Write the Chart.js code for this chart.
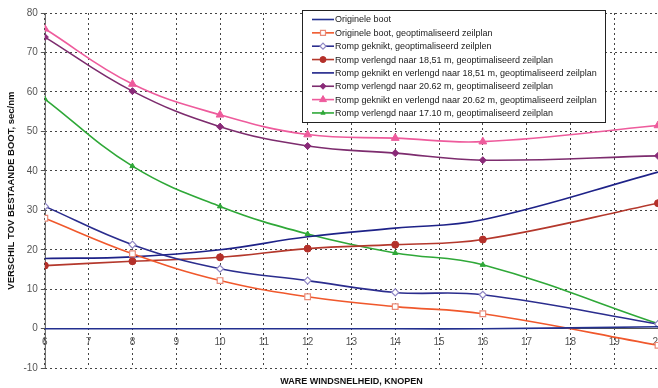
<!DOCTYPE html>
<html lang="nl">
<head>
<meta charset="UTF-8">
<title>Verschil tov bestaande boot</title>
<script src="https://cdn.jsdelivr.net/npm/chart.js@4.4.0/dist/chart.umd.min.js"></script>
<style>
  html, body { margin: 0; padding: 0; background: #fff; }
  #wrap { width: 658px; height: 388px; position: relative; }
</style>
</head>
<body>
<div id="wrap"><canvas id="chart"></canvas></div>
<script>
// wind speeds (knots) where each hull was measured
const windSpeeds = [6, 8, 10, 12, 14, 16, 20];

// difference vs. existing boat, sec/nm
const origineleBoot         = [0, 0, 0, 0, 0, 0, 0.5];
const origineleGeopt        = [28, 19, 12.2, 8.1, 5.6, 3.8, -4.2];
const rompGeknikt           = [31, 21.3, 15.2, 12.2, 9.2, 8.6, 1.2];
const rompVerlengd1851      = [16, 17.1, 18.1, 20.3, 21.3, 22.6, 31.8];
const geknikt1851           = [17.8, 18.2, 20, 23.3, 25.5, 27.6, 39.7];
const rompVerlengd2062      = [73.9, 60.2, 51.2, 46.3, 44.5, 42.7, 43.8];
const geknikt2062           = [76, 62, 54.2, 49.2, 48.3, 47.4, 51.5];
const rompVerlengd1710      = [58.2, 41.2, 31, 24, 19.2, 16.2, 1.3];

const seriesLabels = [
    'Originele boot',
    'Originele boot, geoptimaliseerd zeilplan',
    'Romp geknikt, geoptimaliseerd zeilplen',
    'Romp verlengd naar 18,51 m, geoptimaliseerd zeilplan',
    'Romp geknikt en verlengd naar 18,51 m, geoptimaliseerd zeilplan',
    'Romp verlengd naar 20.62 m, geoptimaliseerd zeilplan',
    'Romp geknikt en verlengd naar 20.62 m, geoptimaliseerd zeilplan',
    'Romp verlengd naar 17.10 m, geoptimaliseerd zeilplan'
];

const yTicks = { min: -10, max: 80, step: 10 };
const xTicks = { min: 6, max: 20, step: 1 };

const FONT = '"Liberation Sans", Arial, sans-serif';

function pts(values) {
    return windSpeeds.map((w, i) => ({ x: w, y: values[i] }));
}

function series(label, values, line, marker) {
    return Object.assign({
        label: label,
        data: pts(values),
        borderColor: line,
        borderWidth: 1.6,
        tension: 0.4,
        pointRadius: 0,
        pointHoverRadius: 0
    }, marker || {});
}

const datasets = [
    series(seriesLabels[0], origineleBoot, '#23308f'),
    series(seriesLabels[1], origineleGeopt, '#f0582c',
        { pointStyle: 'rect', pointRadius: 4, pointBorderColor: '#e98a78', pointBackgroundColor: '#fff', pointBorderWidth: 1.2 }),
    series(seriesLabels[2], rompGeknikt, '#2b2d8e',
        { pointStyle: 'rectRot', pointRadius: 3.5, pointBorderColor: '#8f86c4', pointBackgroundColor: '#fff', pointBorderWidth: 1.2 }),
    series(seriesLabels[3], rompVerlengd1851, '#b4382c',
        { pointStyle: 'circle', pointRadius: 3.5, pointBorderColor: '#b4302a', pointBackgroundColor: '#b4302a', pointBorderWidth: 1 }),
    series(seriesLabels[4], geknikt1851, '#1e2288'),
    series(seriesLabels[5], rompVerlengd2062, '#7d2c6e',
        { pointStyle: 'rectRot', pointRadius: 3.5, pointBorderColor: '#8a2a78', pointBackgroundColor: '#8a2a78', pointBorderWidth: 1 }),
    series(seriesLabels[6], geknikt2062, '#ee5b9c',
        { pointStyle: 'triangle', pointRadius: 4.5, pointBorderColor: '#ee5b9c', pointBackgroundColor: '#ee5b9c', pointBorderWidth: 1 }),
    series(seriesLabels[7], rompVerlengd1710, '#2fa838',
        { pointStyle: 'triangle', pointRadius: 3, pointBorderColor: '#2fa838', pointBackgroundColor: '#2fa838', pointBorderWidth: 1 })
];

// solid value axis line on the left, gridlines stay dotted
const axisLine = {
    id: 'axisLine',
    beforeDatasetsDraw(chart) {
        const { ctx, chartArea } = chart;
        ctx.save();
        ctx.strokeStyle = '#555';
        ctx.lineWidth = 1;
        ctx.beginPath();
        ctx.moveTo(chartArea.left + 0.5, chartArea.top);
        ctx.lineTo(chartArea.left + 0.5, chartArea.bottom);
        ctx.stroke();
        ctx.restore();
    }
};

// Excel-style boxed legend sitting inside the plot
const boxLegend = {
    id: 'boxLegend',
    afterDatasetsDraw(chart) {
        const ctx = chart.ctx;
        const x0 = 302, y0 = 10, w = 303, h = 112;
        const rowH = 13.35, firstRow = y0 + 9.5;
        ctx.save();
        ctx.fillStyle = '#fff';
        ctx.fillRect(x0, y0, w, h);
        ctx.strokeStyle = '#222';
        ctx.lineWidth = 1;
        ctx.strokeRect(x0 + 0.5, y0 + 0.5, w, h);
        ctx.font = '9px ' + FONT;
        ctx.textBaseline = 'middle';
        chart.data.datasets.forEach((ds, i) => {
            const y = firstRow + i * rowH;
            ctx.strokeStyle = ds.borderColor;
            ctx.lineWidth = 1.6;
            ctx.beginPath();
            ctx.moveTo(x0 + 10, y);
            ctx.lineTo(x0 + 32, y);
            ctx.stroke();
            if (ds.pointRadius > 0) {
                ctx.fillStyle = ds.pointBackgroundColor;
                ctx.strokeStyle = ds.pointBorderColor;
                ctx.lineWidth = ds.pointBorderWidth;
                Chart.helpers.drawPoint(ctx, {
                    pointStyle: ds.pointStyle, radius: ds.pointRadius - 0.5,
                    borderWidth: ds.pointBorderWidth, rotation: 0
                }, x0 + 21, y);
            }
            ctx.fillStyle = '#1a1a1a';
            ctx.fillText(ds.label, x0 + 33, y + 0.5);
        });
        ctx.restore();
    }
};

new Chart(document.getElementById('chart'), {
    type: 'line',
    data: { datasets: datasets },
    plugins: [axisLine, boxLegend],
    options: {
        responsive: true,
        maintainAspectRatio: false,
        animation: false,
        events: [],
        layout: { autoPadding: false, padding: { top: 13, right: 0, left: 6 } },
        plugins: {
            legend: { display: false },
            tooltip: { enabled: false },
            title: {
                display: true,
                position: 'bottom',
                fullSize: false,
                text: 'WARE WINDSNELHEID, KNOPEN',
                color: '#111',
                font: { family: FONT, size: 9, weight: 'bold' },
                padding: { top: 8, bottom: 1 }
            }
        },
        scales: {
            x: {
                type: 'linear',
                position: { y: 0 },
                min: xTicks.min,
                max: xTicks.max,
                ticks: {
                    stepSize: xTicks.step,
                    maxRotation: 0,
                    color: '#555',
                    // negative padding + long invisible tick keeps the label
                    // offset while letting "20" run off the right edge
                    padding: -6,
                    font: { family: FONT, size: 10 }
                },
                grid: {
                    color: '#444',
                    lineWidth: 1,
                    tickLength: 14,
                    tickColor: 'rgba(0,0,0,0)',
                    tickBorderDash: []
                },
                border: { display: true, color: '#555', dash: [2, 3] }
            },
            y: {
                min: yTicks.min,
                max: yTicks.max,
                ticks: {
                    stepSize: yTicks.step,
                    color: '#555',
                    padding: 3,
                    font: { family: FONT, size: 10 }
                },
                grid: {
                    color: '#444',
                    lineWidth: 1,
                    tickLength: 4,
                    tickColor: '#555',
                    tickBorderDash: []
                },
                border: { display: false, dash: [2, 3] },
                title: {
                    display: true,
                    text: 'VERSCHIL TOV BESTAANDE BOOT, sec/nm',
                    color: '#111',
                    font: { family: FONT, size: 9.5, weight: 'bold' },
                    padding: { top: 0, bottom: 3 }
                }
            }
        }
    }
});
</script>
</body>
</html>
